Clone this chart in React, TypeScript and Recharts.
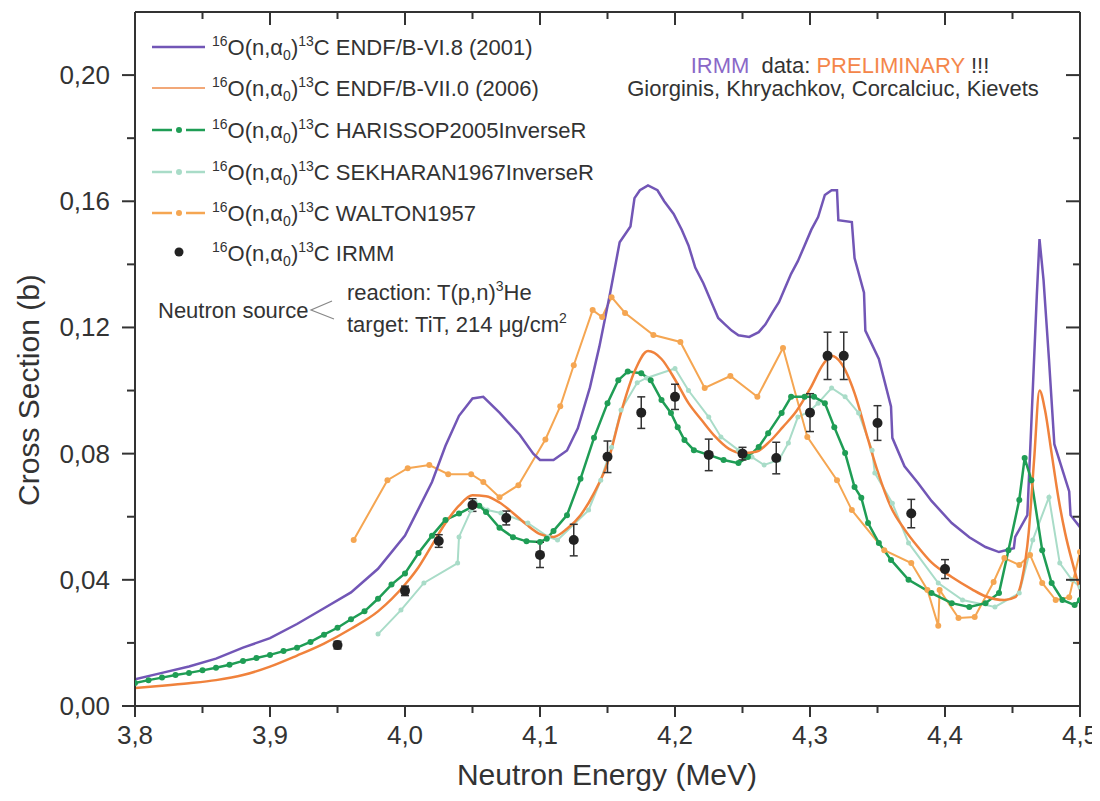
import { ComposedChart, Line, Scatter, ErrorBar, XAxis, YAxis } from "recharts";

type P = [number, number];

// ENDF/B-VI.8 (2001)
const ENDF6: P[] = [
  [3.8, 0.0085], [3.82, 0.0105], [3.84, 0.0125], [3.86, 0.015], [3.88, 0.0185], [3.9, 0.0215],
  [3.92, 0.026], [3.94, 0.031], [3.96, 0.036], [3.98, 0.0435], [4.0, 0.054], [4.01, 0.0625],
  [4.02, 0.071], [4.03, 0.0825], [4.04, 0.092], [4.05, 0.0975], [4.058, 0.098], [4.07, 0.093],
  [4.085, 0.086], [4.095, 0.08], [4.1, 0.078], [4.11, 0.078], [4.12, 0.081], [4.128, 0.088],
  [4.137, 0.101], [4.144, 0.114], [4.152, 0.131], [4.159, 0.147], [4.167, 0.152], [4.17, 0.161],
  [4.174, 0.1635], [4.18, 0.165], [4.187, 0.1635], [4.192, 0.16], [4.199, 0.156], [4.205, 0.151],
  [4.21, 0.146], [4.215, 0.139], [4.221, 0.134], [4.227, 0.128], [4.232, 0.123], [4.237, 0.121],
  [4.242, 0.119], [4.247, 0.1175], [4.255, 0.117], [4.262, 0.1185], [4.267, 0.121], [4.272, 0.1246],
  [4.277, 0.128], [4.281, 0.132], [4.286, 0.137], [4.291, 0.141], [4.296, 0.146], [4.301, 0.151],
  [4.306, 0.155], [4.311, 0.162], [4.316, 0.1635], [4.32, 0.1635], [4.321, 0.154], [4.331, 0.1534],
  [4.333, 0.142], [4.34, 0.131], [4.341, 0.119], [4.351, 0.11], [4.36, 0.095], [4.361, 0.085],
  [4.37, 0.076], [4.38, 0.0707], [4.39, 0.065], [4.405, 0.058], [4.418, 0.0535], [4.43, 0.0504],
  [4.44, 0.0488], [4.451, 0.05], [4.452, 0.0536], [4.461, 0.0605], [4.464, 0.09], [4.468, 0.13],
  [4.47, 0.148], [4.473, 0.135], [4.477, 0.11], [4.481, 0.083], [4.492, 0.068], [4.493, 0.0605],
  [4.5, 0.0567],
];

// ENDF/B-VII.0 (2006)
const ENDF7: P[] = [
  [3.8, 0.0057], [3.82, 0.0064], [3.84, 0.0072], [3.86, 0.0082], [3.88, 0.0098], [3.9, 0.0125],
  [3.92, 0.016], [3.94, 0.0198], [3.96, 0.0245], [3.98, 0.03], [4.0, 0.0385], [4.01, 0.044],
  [4.02, 0.051], [4.03, 0.058], [4.04, 0.0635], [4.05, 0.0668], [4.06, 0.0665], [4.07, 0.0645],
  [4.08, 0.0612], [4.09, 0.0575], [4.1, 0.0545], [4.11, 0.0536], [4.12, 0.0562], [4.13, 0.0605],
  [4.14, 0.0675], [4.15, 0.077], [4.16, 0.093], [4.17, 0.106], [4.18, 0.1125], [4.19, 0.11],
  [4.2, 0.1035], [4.21, 0.096], [4.22, 0.0905], [4.23, 0.0853], [4.24, 0.0815], [4.25, 0.0802],
  [4.26, 0.0806], [4.27, 0.0838], [4.28, 0.0885], [4.29, 0.0935], [4.3, 0.1005], [4.31, 0.1085],
  [4.316, 0.111], [4.323, 0.1087], [4.333, 0.0992], [4.343, 0.0845], [4.35, 0.0745], [4.36, 0.063],
  [4.37, 0.056], [4.38, 0.0504], [4.39, 0.0455], [4.405, 0.0409], [4.42, 0.037], [4.43, 0.0348],
  [4.444, 0.0336], [4.452, 0.0345], [4.457, 0.04], [4.462, 0.055], [4.466, 0.078], [4.47, 0.1],
  [4.474, 0.094], [4.479, 0.08], [4.484, 0.066], [4.489, 0.0548], [4.495, 0.0445], [4.5, 0.0368],
];

// HARISSOP2005InverseR
const HARISSOP: P[] = [
  [3.8, 0.0073], [3.81, 0.0082], [3.82, 0.009], [3.83, 0.0098], [3.84, 0.0105], [3.85, 0.0113],
  [3.86, 0.0121], [3.87, 0.0131], [3.88, 0.0143], [3.89, 0.0152], [3.9, 0.0162], [3.91, 0.0174],
  [3.92, 0.0185], [3.93, 0.0203], [3.94, 0.0226], [3.95, 0.0248], [3.96, 0.0275], [3.97, 0.03],
  [3.98, 0.034], [3.99, 0.0385], [4.0, 0.042], [4.01, 0.0485], [4.02, 0.054], [4.03, 0.059],
  [4.04, 0.061], [4.05, 0.0632], [4.055, 0.0635], [4.06, 0.0615], [4.07, 0.0565], [4.08, 0.0535],
  [4.09, 0.0522], [4.1, 0.052], [4.105, 0.053], [4.11, 0.0555], [4.12, 0.0605], [4.13, 0.072],
  [4.14, 0.085], [4.15, 0.096], [4.158, 0.1033], [4.165, 0.106], [4.175, 0.1055], [4.182, 0.1033],
  [4.19, 0.097], [4.197, 0.0929], [4.202, 0.0884], [4.207, 0.0843], [4.214, 0.0811], [4.225, 0.0796],
  [4.236, 0.078], [4.247, 0.077], [4.254, 0.0789], [4.262, 0.0821], [4.269, 0.0865], [4.279, 0.0929],
  [4.286, 0.098], [4.296, 0.098], [4.303, 0.098], [4.311, 0.096], [4.318, 0.0884], [4.326, 0.0802],
  [4.333, 0.0694], [4.338, 0.066], [4.343, 0.058], [4.351, 0.0517], [4.36, 0.0463], [4.373, 0.04],
  [4.39, 0.0358], [4.405, 0.0326], [4.418, 0.0314], [4.43, 0.0326], [4.44, 0.0358], [4.447, 0.0494],
  [4.455, 0.0653], [4.459, 0.0786], [4.464, 0.0716], [4.472, 0.0494], [4.479, 0.039], [4.487, 0.0336],
  [4.496, 0.032], [4.5, 0.0336],
];

// SEKHARAN1967InverseR
const SEKHARAN: P[] = [
  [3.98, 0.0228], [3.997, 0.0304], [4.014, 0.039], [4.039, 0.0453], [4.04, 0.0536], [4.049, 0.0621],
  [4.052, 0.0647], [4.061, 0.0621], [4.071, 0.0612], [4.091, 0.058], [4.106, 0.0536], [4.113, 0.0526],
  [4.136, 0.0621], [4.145, 0.0716], [4.153, 0.082], [4.16, 0.0938], [4.172, 0.1025], [4.179, 0.104],
  [4.2, 0.107], [4.21, 0.1], [4.225, 0.0916], [4.234, 0.0853], [4.247, 0.0811], [4.257, 0.0789],
  [4.266, 0.0764], [4.277, 0.078], [4.284, 0.0834], [4.291, 0.0916], [4.299, 0.0932], [4.306, 0.096],
  [4.316, 0.1008], [4.326, 0.098], [4.336, 0.0929], [4.346, 0.0811], [4.348, 0.0739], [4.361, 0.0643],
  [4.373, 0.0517], [4.395, 0.039], [4.413, 0.0336], [4.437, 0.0314], [4.455, 0.0358], [4.465, 0.0526],
  [4.477, 0.0662], [4.485, 0.0453], [4.494, 0.04], [4.5, 0.0377],
];

// WALTON1957
const WALTON: P[] = [
  [3.962, 0.0526], [3.987, 0.0716], [4.002, 0.0754], [4.018, 0.0764], [4.032, 0.0735], [4.049, 0.0735],
  [4.058, 0.071], [4.07, 0.0662], [4.084, 0.07], [4.104, 0.0845], [4.115, 0.095], [4.125, 0.108],
  [4.139, 0.1255], [4.146, 0.1233], [4.153, 0.1296], [4.163, 0.1246], [4.184, 0.1176], [4.204, 0.1154],
  [4.222, 0.1008], [4.241, 0.1046], [4.261, 0.098], [4.28, 0.1135], [4.298, 0.0853], [4.32, 0.0716],
  [4.331, 0.0621], [4.355, 0.0494], [4.375, 0.0453], [4.387, 0.0368], [4.395, 0.0254], [4.396, 0.0368],
  [4.41, 0.0279], [4.422, 0.0282], [4.436, 0.0393], [4.444, 0.0469], [4.455, 0.0447], [4.463, 0.0479],
  [4.472, 0.039], [4.482, 0.0336], [4.492, 0.0345], [4.5, 0.0488],
];

// IRMM measured points
const IRMM_E = [3.95, 4.0, 4.025, 4.05, 4.075, 4.1, 4.125, 4.15, 4.175, 4.2, 4.225, 4.25, 4.275, 4.3, 4.313, 4.325, 4.35, 4.375, 4.4];
const IRMM_SIGMA = [0.0193, 0.0365, 0.0523, 0.0637, 0.0596, 0.0479, 0.0526, 0.079, 0.093, 0.098, 0.0796, 0.08, 0.0786, 0.093, 0.111, 0.111, 0.0897, 0.061, 0.0434];
const IRMM_ERR = [0.0012, 0.0015, 0.002, 0.002, 0.0022, 0.004, 0.005, 0.005, 0.005, 0.004, 0.005, 0.002, 0.005, 0.006, 0.0075, 0.0075, 0.0055, 0.0045, 0.003];

const X_MAJOR = [3.8, 3.9, 4.0, 4.1, 4.2, 4.3, 4.4, 4.5];
const X_MINOR = [3.85, 3.95, 4.05, 4.15, 4.25, 4.35, 4.45];
const Y_MAJOR = [0, 0.04, 0.08, 0.12, 0.16, 0.2];
const Y_MINOR = [0.02, 0.06, 0.1, 0.14, 0.18];

const LEGEND_NAMES = ["ENDF/B-VI.8 (2001)", "ENDF/B-VII.0 (2006)", "HARISSOP2005InverseR", "SEKHARAN1967InverseR", "WALTON1957", "IRMM"];

const PURPLE = "#7256b6";
const ORANGE = "#f0823c";
const GREEN = "#1f9d55";
const TEAL = "#a9dcc8";
const LIGHT_ORANGE = "#f5a652";
const INK = "#333";
const FONT = '"Liberation Sans", Arial, Helvetica, sans-serif';

const W = 1092;
const H = 785;

const toXY = (a: P[]) => a.map(([x, y]) => ({ x, y }));
const irmm = IRMM_E.map((x, i) => ({ x, y: IRMM_SIGMA[i], err: IRMM_ERR[i] }));

const xTicks = [...X_MAJOR, ...X_MINOR].sort((a, b) => a - b);
const yTicks = [...Y_MAJOR, ...Y_MINOR].sort((a, b) => a - b);
const isMajor = (list: number[], v: number) => list.some((m) => Math.abs(m - v) < 1e-6);
const fmt = (v: number, d: number) => v.toFixed(d).replace(".", ",");

const AXIS = { stroke: INK, strokeWidth: 2 };

function BottomTick(p: any) {
  const major = isMajor(X_MAJOR, p.payload.value);
  return (
    <g>
      <line x1={p.x} x2={p.x} y1={p.y} y2={p.y + (major ? 11 : 7)} stroke={INK} strokeWidth={2} />
      {major && (
        <text x={p.x} y={p.y + 38} textAnchor="middle" fontSize={26} fill={INK} fontFamily={FONT}>
          {fmt(p.payload.value, 1)}
        </text>
      )}
    </g>
  );
}

function TopTick(p: any) {
  const major = isMajor(X_MAJOR, p.payload.value);
  return <line x1={p.x} x2={p.x} y1={p.y} y2={p.y + (major ? 13 : 7)} stroke={INK} strokeWidth={2} />;
}

function LeftTick(p: any) {
  const major = isMajor(Y_MAJOR, p.payload.value);
  return (
    <g>
      <line x1={p.x} x2={p.x - (major ? 13 : 8)} y1={p.y} y2={p.y} stroke={INK} strokeWidth={2} />
      {major && (
        <text x={p.x - 25} y={p.y + 9} textAnchor="end" fontSize={26} fill={INK} fontFamily={FONT}>
          {fmt(p.payload.value, 2)}
        </text>
      )}
    </g>
  );
}

function RightTick(p: any) {
  const major = isMajor(Y_MAJOR, p.payload.value);
  return <line x1={p.x} x2={p.x - (major ? 14 : 7)} y1={p.y} y2={p.y} stroke={INK} strokeWidth={2} />;
}

function Reaction({ x, y, name }: { x: number; y: number; name: string }) {
  return (
    <text x={x} y={y} fontSize={22} fill={INK} fontFamily={FONT}>
      <tspan fontSize={14} dy={-9}>16</tspan>
      <tspan dy={9}>O(n,α</tspan>
      <tspan fontSize={14} dy={5}>0</tspan>
      <tspan dy={-5}>)</tspan>
      <tspan fontSize={14} dy={-9}>13</tspan>
      <tspan dy={9}>{"C " + name}</tspan>
    </text>
  );
}

function DashDot({ y, color }: { y: number; color: string }) {
  return (
    <g>
      <line x1={144} x2={164} y1={y} y2={y} stroke={color} strokeWidth={2.5} />
      <circle cx={171} cy={y} r={3} fill={color} />
      <line x1={178} x2={197} y1={y} y2={y} stroke={color} strokeWidth={2.5} />
    </g>
  );
}

function Overlay() {
  const rows = [39, 80, 122, 164, 205, 245];
  return (
    <svg width={W} height={H} style={{ position: "absolute", left: 0, top: 0, pointerEvents: "none" }}>
      {/* legend */}
      <line x1={144} x2={197} y1={rows[0]} y2={rows[0]} stroke={PURPLE} strokeWidth={2.5} />
      <line x1={144} x2={197} y1={rows[1]} y2={rows[1]} stroke="#f2a878" strokeWidth={2} />
      <DashDot y={rows[2]} color={GREEN} />
      <DashDot y={rows[3]} color={TEAL} />
      <DashDot y={rows[4]} color={LIGHT_ORANGE} />
      <circle cx={171} cy={rows[5] - 1} r={4.5} fill="#222" />
      {LEGEND_NAMES.map((n, i) => (
        <Reaction key={n} x={204} y={rows[i] + 8} name={n} />
      ))}

      {/* header note */}
      <text x={832} y={65} textAnchor="middle" fontSize={22} fontFamily={FONT} fill={INK}>
        <tspan fill="#8a68c8">IRMM</tspan>
        <tspan dx={12}>data: </tspan>
        <tspan fill="#f4864a">PRELIMINARY</tspan>
        <tspan> !!!</tspan>
      </text>
      <text x={825} y={88} textAnchor="middle" fontSize={22} fontFamily={FONT} fill={INK}>
        Giorginis, Khryachkov, Corcalciuc, Kievets
      </text>

      {/* neutron source note */}
      <text x={150} y={310} fontSize={22} fontFamily={FONT} fill={INK}>Neutron source</text>
      <polyline points="324,293 303,302 326,311" fill="none" stroke="#888" strokeWidth={1.2} />
      <text x={339} y={292} fontSize={22} fontFamily={FONT} fill={INK}>
        reaction: T(p,n)
        <tspan fontSize={14} dy={-9}>3</tspan>
        <tspan dy={9}>He</tspan>
      </text>
      <text x={339} y={324} fontSize={22} fontFamily={FONT} fill={INK}>
        target: TiT, 214 μg/cm
        <tspan fontSize={14} dy={-9}>2</tspan>
      </text>

      {/* axis titles */}
      <text x={31} y={382} transform="rotate(-90 31 382)" textAnchor="middle" fontSize={30} fontFamily={FONT} fill={INK}>
        Cross Section (b)
      </text>
      <text x={599} y={777} textAnchor="middle" fontSize={30} fontFamily={FONT} fill={INK}>
        Neutron Energy (MeV)
      </text>
    </svg>
  );
}

export default function App() {
  return (
    <div style={{ position: "relative", width: W, height: H, fontFamily: FONT, background: "#fff" }}>
      <ComposedChart width={W} height={H} margin={{ top: 0, right: 0, bottom: 0, left: 0 }}>
        <XAxis
          xAxisId="b"
          dataKey="x"
          type="number"
          domain={[3.8, 4.5]}
          ticks={xTicks}
          interval={0}
          allowDataOverflow
          height={87}
          axisLine={AXIS}
          tickLine={false}
          tickSize={0}
          tickMargin={0}
          tick={(p: any) => <BottomTick {...p} />}
        />
        <XAxis
          xAxisId="t"
          orientation="top"
          dataKey="x"
          type="number"
          domain={[3.8, 4.5]}
          ticks={xTicks}
          interval={0}
          allowDataOverflow
          height={4}
          axisLine={AXIS}
          tickLine={false}
          tickSize={0}
          tickMargin={0}
          tick={(p: any) => <TopTick {...p} />}
        />
        <YAxis
          yAxisId="l"
          dataKey="y"
          type="number"
          domain={[0, 0.22]}
          ticks={yTicks}
          interval={0}
          allowDataOverflow
          width={127}
          axisLine={AXIS}
          tickLine={false}
          tickSize={0}
          tickMargin={0}
          tick={(p: any) => <LeftTick {...p} />}
        />
        <YAxis
          yAxisId="r"
          orientation="right"
          dataKey="y"
          type="number"
          domain={[0, 0.22]}
          ticks={yTicks}
          interval={0}
          allowDataOverflow
          width={20}
          axisLine={AXIS}
          tickLine={false}
          tickSize={0}
          tickMargin={0}
          tick={(p: any) => <RightTick {...p} />}
        />
        <Line xAxisId="b" yAxisId="l" data={toXY(SEKHARAN)} dataKey="y" type="linear" stroke={TEAL} strokeWidth={2}
          dot={{ r: 2.5, fill: TEAL, stroke: "none" }} isAnimationActive={false} />
        <Line xAxisId="b" yAxisId="l" data={toXY(WALTON)} dataKey="y" type="linear" stroke={LIGHT_ORANGE} strokeWidth={2}
          dot={{ r: 3, fill: LIGHT_ORANGE, stroke: "none" }} isAnimationActive={false} />
        <Line xAxisId="b" yAxisId="l" data={toXY(ENDF6)} dataKey="y" type="linear" stroke={PURPLE} strokeWidth={2.5}
          dot={false} isAnimationActive={false} />
        <Line xAxisId="b" yAxisId="l" data={toXY(HARISSOP)} dataKey="y" type="linear" stroke={GREEN} strokeWidth={2.5}
          dot={{ r: 3, fill: GREEN, stroke: "none" }} isAnimationActive={false} />
        <Line xAxisId="b" yAxisId="l" data={toXY(ENDF7)} dataKey="y" type="monotone" stroke={ORANGE} strokeWidth={2.5}
          dot={false} isAnimationActive={false} />
        <Scatter xAxisId="b" yAxisId="l" data={irmm} dataKey="y" fill="#222" isAnimationActive={false}
          shape={(p: any) => <circle cx={p.cx} cy={p.cy} r={5} fill="#222" />}>
          <ErrorBar dataKey="err" direction="y" width={4} stroke="#333" strokeWidth={1.5} />
        </Scatter>
      </ComposedChart>
      <Overlay />
    </div>
  );
}
